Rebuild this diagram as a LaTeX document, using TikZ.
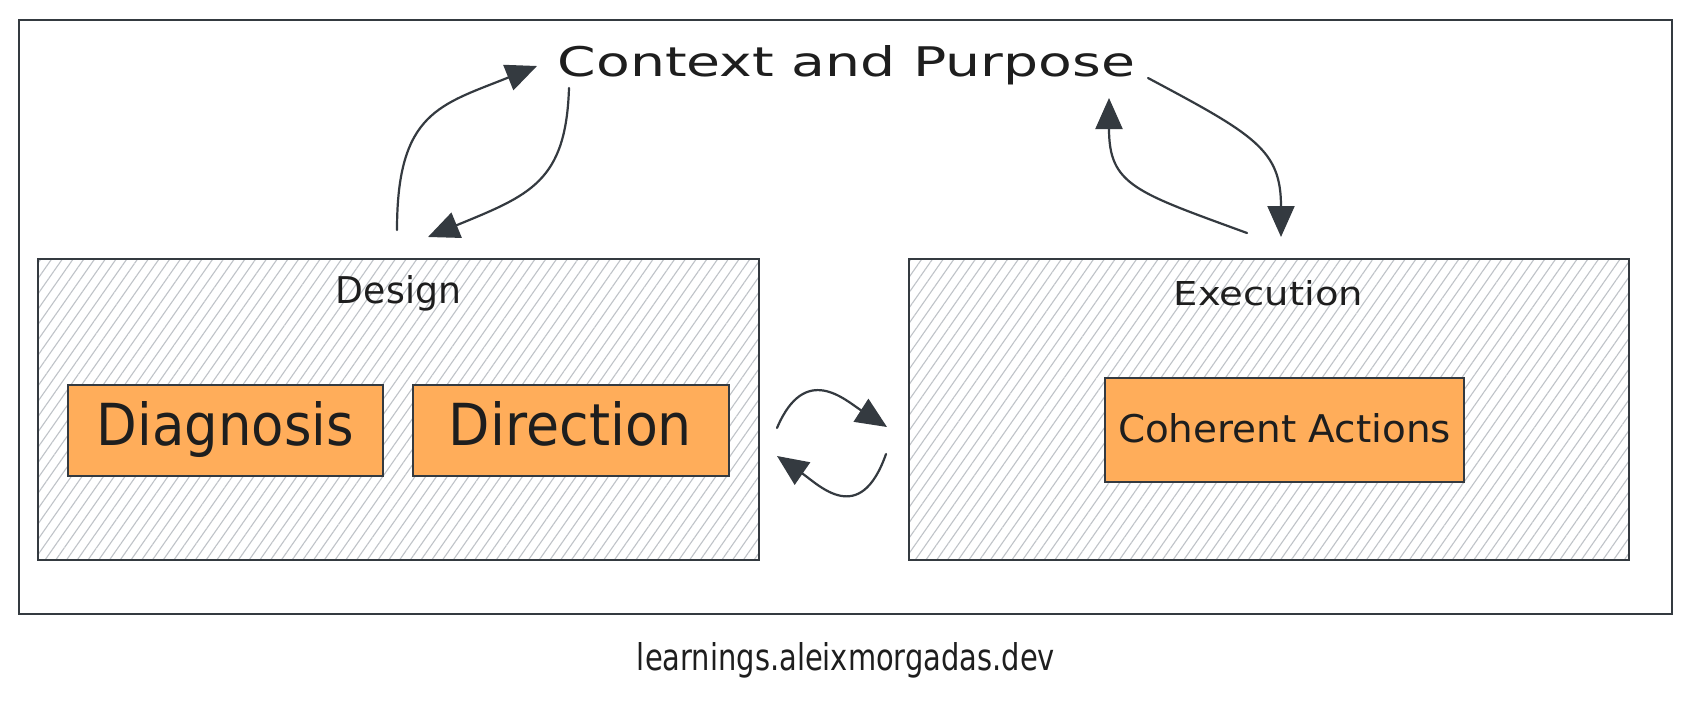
\documentclass[tikz,border=0pt]{standalone}
\usepackage{fontspec}
\setmainfont{DejaVu Sans}
\usetikzlibrary{arrows.meta,patterns.meta}
\definecolor{ink}{HTML}{343A40}
\definecolor{txt}{HTML}{1E1E1E}
\definecolor{orng}{HTML}{FFAD5A}
\definecolor{hatch}{HTML}{BFC3C8}
\tikzset{
  frame/.style={draw=ink, line width=2pt, anchor=north west, inner sep=0pt, outer sep=0pt},
  area/.style={frame, pattern={Lines[angle=55,distance=8.8pt,line width=1.1pt]}, pattern color=hatch},
  card/.style={frame, fill=orng},
  lbl/.style={anchor=base, inner sep=0pt, outer sep=0pt, text=txt},
  flow/.style={draw=ink, line width=2.2pt, line cap=round, -{Triangle[length=31pt,width=27pt]}},
}
\newcommand{\fitbox}[3]{\resizebox{#1}{#2}{#3}}
\begin{document}
\begin{tikzpicture}[x=1pt,y=-1pt]
\fill[white] (0,0) rectangle (1692,701);
\useasboundingbox (0,0) rectangle (1692,701);

% frames
\node[frame, minimum width=1653pt, minimum height=594pt] (outer) at (19,20) {};
\node[area, minimum width=721pt, minimum height=301pt] (design) at (38,259) {};
\node[area, minimum width=720pt, minimum height=301pt] (exec) at (909,259) {};
\node[card, minimum width=315pt, minimum height=91pt] (diag) at (68,385) {};
\node[card, minimum width=316pt, minimum height=91pt] (dir) at (413,385) {};
\node[card, minimum width=359pt, minimum height=104pt] (coh) at (1105,378) {};

% texts
\node[lbl] (ctx) at (846.5,77) {\fitbox{577pt}{31pt}{Context and Purpose}};
\node[lbl] (designt) at (398.5,303) {\fitbox{125pt}{28pt}{Design}};
\node[lbl] (exect) at (1268.5,305) {\fitbox{189pt}{25pt}{Execution}};
\node[lbl] (diagt) at (225.5,445) {\fitbox{257pt}{44pt}{Diagnosis}};
\node[lbl] (dirt) at (570.5,445) {\fitbox{243pt}{44pt}{Direction}};
\node[lbl] (coht) at (1284.5,442) {\fitbox{333pt}{29pt}{Coherent Actions}};
\node[lbl] (foot) at (846,670) {\fitbox{418pt}{28pt}{learnings.aleixmorgadas.dev}};

% connector ends
\coordinate (a1s) at (397,230);  \coordinate (a1e) at (537,66);
\coordinate (a2s) at (569,88);   \coordinate (a2e) at (428,237);
\coordinate (a3s) at (1148,78);  \coordinate (a3e) at (1281,237);
\coordinate (a4s) at (1247,233); \coordinate (a4e) at (1109,98);
\coordinate (m1s) at (777,428);  \coordinate (m1e) at (887,427);
\coordinate (m2s) at (886,454);  \coordinate (m2e) at (777,456);

\draw[flow] (a1s) .. controls (397,112) and (440,105) .. (a1e);
\draw[flow] (a2s) .. controls (566,182) and (530,195) .. (a2e);
\draw[flow] (a3s) .. controls (1255,135) and (1281,150) .. (a3e);
\draw[flow] (a4s) .. controls (1135,192) and (1109,185) .. (a4e);
\draw[flow] (m1s) .. controls (805,362) and (845,400) .. (m1e);
\draw[flow] (m2s) .. controls (860,528) and (819,485) .. (m2e);
\end{tikzpicture}
\end{document}
